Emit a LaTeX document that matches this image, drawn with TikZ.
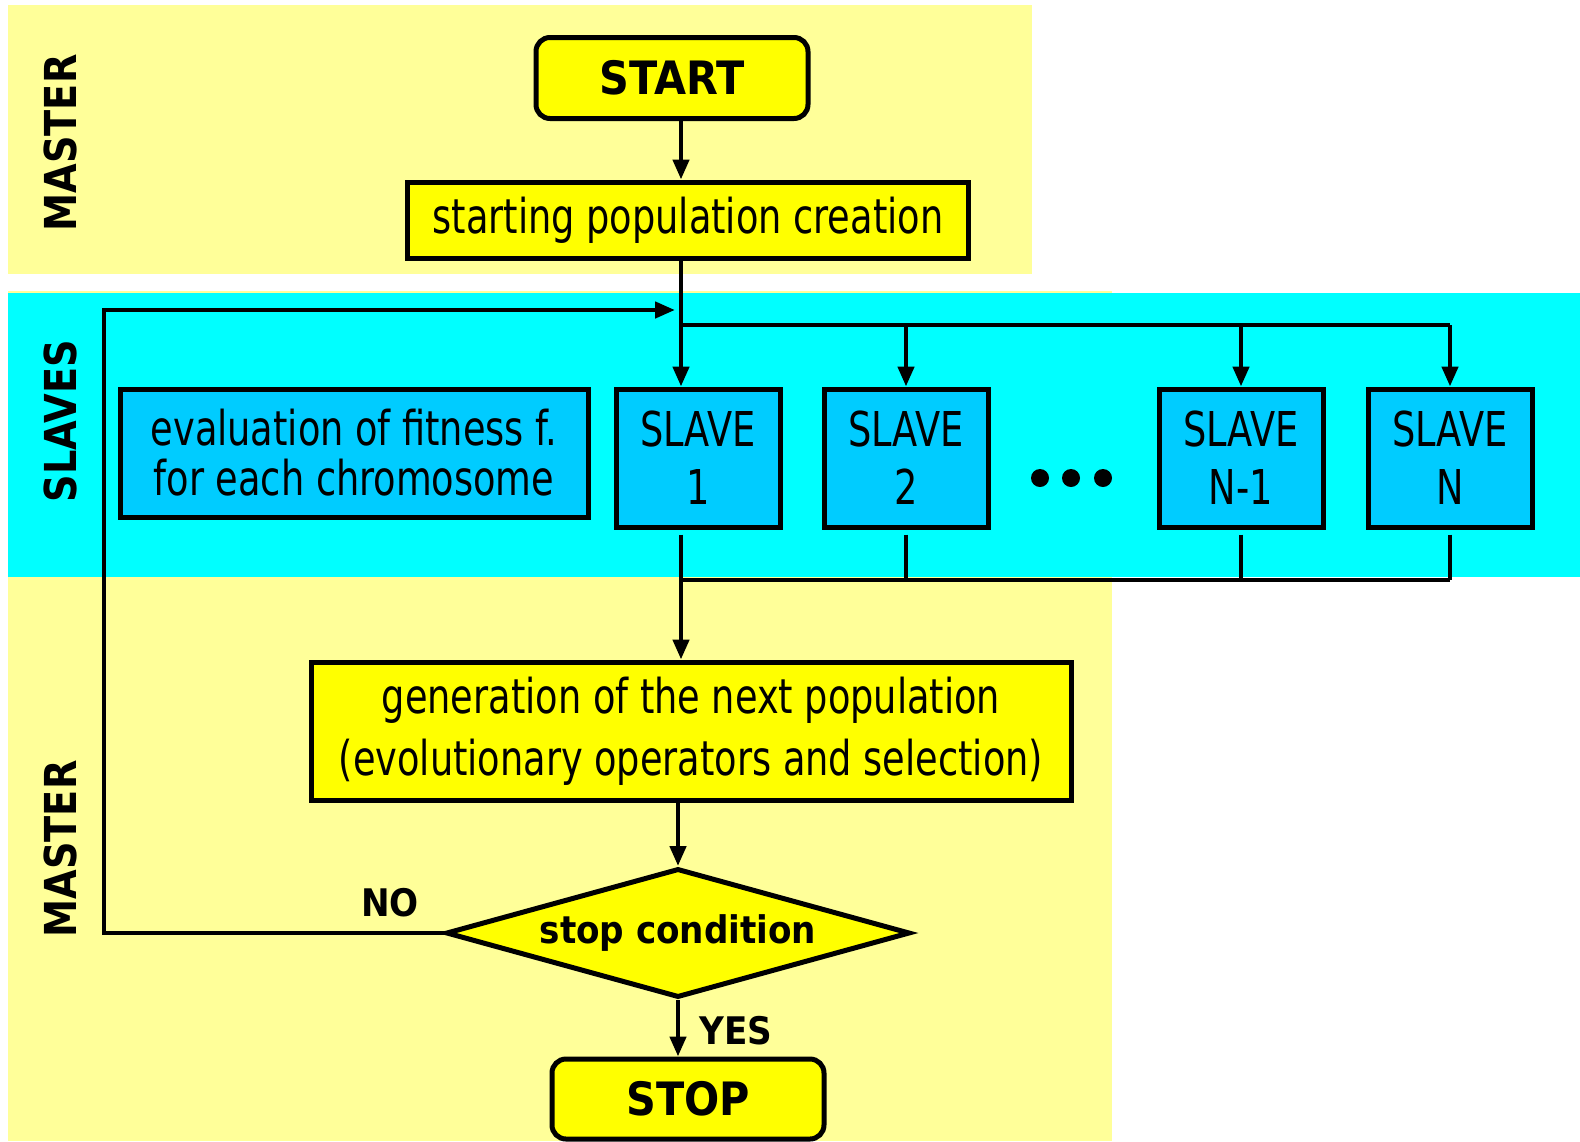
\documentclass[tikz,border=0pt]{standalone}
\usepackage{fontspec}
\setmainfont{DejaVu Sans Condensed}[FakeStretch=0.85]
\newfontfamily\boldfont{DejaVu Sans Condensed Bold}
\newfontfamily\widefont{DejaVu Sans Bold}[FakeStretch=0.87]
\usetikzlibrary{arrows.meta,shapes.geometric}
\definecolor{bandyellow}{HTML}{FFFF99}
\definecolor{bandcyan}{HTML}{00FFFF}
\definecolor{boxyellow}{HTML}{FFFF00}
\definecolor{boxblue}{HTML}{00CCFF}
\begin{document}
\begin{tikzpicture}[x=1pt,y=-1pt,
  box/.style={draw,line width=5pt,inner sep=0pt,align=center,font=\fontsize{48}{58}\selectfont},
  ybox/.style={box,fill=boxyellow},
  bbox/.style={box,fill=boxblue},
  slavebox/.style={bbox,minimum width=164pt,minimum height=138pt},
  term/.style={ybox,rounded corners=14pt,minimum width=272pt,font=\boldfont\fontsize{46}{50}\selectfont},
  band/.style={font=\widefont\fontsize{44}{46}\selectfont,rotate=90},
  lbl/.style={font=\boldfont\fontsize{38}{40}\selectfont},
  line/.style={line width=4.5pt},
  arr/.style={line,-{Triangle[length=20pt,width=16pt]}}]
\useasboundingbox (0,0) rectangle (1580,1141);
\fill[white] (0,0) rectangle (1580,1141);
% bands
\fill[bandyellow] (8,5) rectangle (1032,274);
\fill[bandyellow] (8,291) rectangle (1112,1141);
\fill[bandcyan] (8,293) rectangle (1580,577);
\node[band] (m1) at (60,143) {MASTER};
\node[band] (sl) at (60,421) {SLAVES};
\node[band] (m2) at (60,849) {MASTER};
% boxes
\node[term,minimum height=81pt] (start) at (672,78) {START};
\node[ybox,minimum width=561pt,minimum height=76pt] (pop) at (688,220) {starting population creation};
\node[bbox,minimum width=468pt,minimum height=128pt,font=\fontsize{48}{50}\selectfont] (eval) at (354,453) {evaluation of fitness f.\\for each chromosome};
\node[slavebox] (s1) at (698,458) {SLAVE\\1};
\node[slavebox] (s2) at (906,458) {SLAVE\\2};
\node[slavebox] (sn1) at (1241,458) {SLAVE\\N-1};
\node[slavebox] (sn) at (1450,458) {SLAVE\\N};
\fill (1040,478) circle (9pt) (1071,478) circle (9pt) (1103,478) circle (9pt);
\node[ybox,minimum width=760pt,minimum height=138pt,font=\fontsize{48}{62}\selectfont] (gen) at (691,731) {generation of the next population\\(evolutionary operators and selection)};
\node[ybox,diamond,aspect=3.6,minimum width=464pt,minimum height=129pt,font=\boldfont\fontsize{38}{40}\selectfont] (dec) at (678,933) {stop condition};
\node[term,minimum height=80pt] (stop) at (688,1099) {STOP};
\node[lbl] (no) at (390,903) {NO};
\node[lbl] (yes) at (736,1031) {YES};
% connectors
\coordinate (split) at (681,325);
\coordinate (join) at (681,580);
\coordinate (loopin) at (675,310);
\coordinate (loopturn) at (104,310);
\draw[arr] (start.south -| split) -- (split |- pop.north);
\draw[arr] (split |- pop.south) -- (split |- s1.north);
\draw[line] (split) -- (sn.north |- split);
\foreach \s in {s2,sn1,sn}
  \draw[arr] (\s.north |- split) -- (\s.north);
\draw[arr] (dec.west) -| (loopturn) -- (loopin);
\draw[line,shorten <=5pt] (s1.south -| join) -- (join);
\foreach \s in {s2,sn1,sn}
  \draw[line,shorten <=5pt] (\s.south) -- (\s.south |- join);
\draw[line] (join) -- (sn.south |- join);
\draw[arr] (join) -- (join |- gen.north);
\draw[arr] (dec.north |- gen.south) -- (dec.north);
\draw[arr] (dec.south) -- (dec.south |- stop.north);
\end{tikzpicture}
\end{document}
